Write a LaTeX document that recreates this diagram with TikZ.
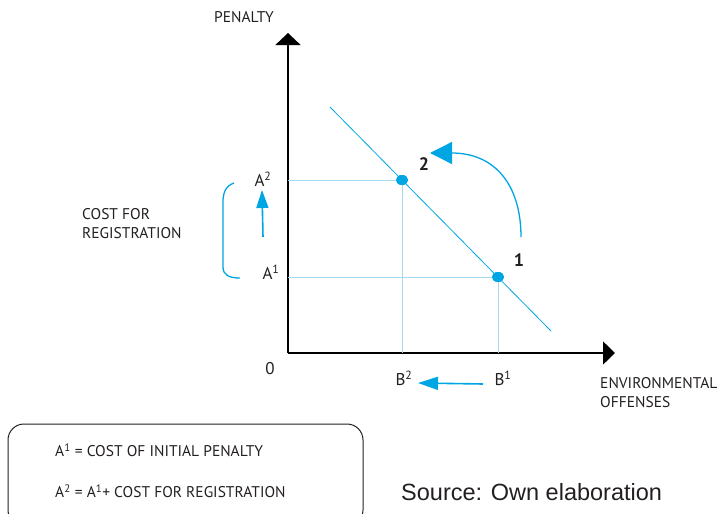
\documentclass[tikz,border=0pt]{standalone}
\usepackage{fontspec}
\setmainfont{PT Sans}
\newfontfamily\srcfont{Liberation Sans}
\usetikzlibrary{arrows.meta,shapes.geometric}
\definecolor{cy}{RGB}{0,166,228}
\definecolor{lcy}{RGB}{165,218,242}
\definecolor{ink}{RGB}{35,31,32}
\begin{document}
\begin{tikzpicture}[x=1pt,y=-1pt,
  lbl/.style={font=\fontsize{15.5}{19}\selectfont, text=ink, inner sep=0pt},
  pt/.style={font=\fontsize{17}{19}\selectfont, text=ink, inner sep=0pt},
  num/.style={font=\bfseries\fontsize{18}{20}\selectfont, text=ink, inner sep=0pt},
  axis/.style={line width=1.6pt, draw=black},
  guide/.style={draw=lcy, line width=0.6pt},
  dot/.style={ellipse, fill=cy, inner sep=0pt, minimum width=12pt, minimum height=10pt},
  blu/.style={draw=cy, line width=1.3pt},
  legend/.style={font=\fontsize{15.5}{17}\selectfont, text=ink, inner sep=0pt}
]
\useasboundingbox (0,0) rectangle (724,514);

% axes
\coordinate (O) at (288,353);
\coordinate (Ytip) at (288,33);
\coordinate (Xtip) at (615,353);
\draw[axis,-{Triangle[width=25pt,length=12pt]}] (O) -- (Ytip);
\draw[axis,-{Triangle[width=23pt,length=12pt]}] (O) -- (Xtip);

% demand line
\coordinate (D1) at (330,107);
\coordinate (D2) at (551,331);
\draw[cy, line width=0.8pt] (D1) -- (D2);

% points
\node[dot] (p2) at (402,180) {};
\node[dot] (p1) at (498,277) {};
\draw[guide] (p2.center) -- (p2.center -| O);
\draw[guide] (p2.center) -- (p2.center |- O);
\draw[guide] (p1.center) -- (p1.center -| O);
\draw[guide] (p1.center) -- (p1.center |- O);
\node[dot] at (p2) {};
\node[dot] at (p1) {};

\node[num] (n2) at (424,164) {2};
\node[num] (n1) at (519,260) {1};

% curved arrow
\coordinate (cs) at (521,237);
\coordinate (ce) at (430,153);
\draw[blu,-{Triangle[width=22pt,length=22pt]}] (cs) .. controls (521,185) and (495,153) .. (ce);

% labels on axes
\node[lbl] (penalty) at (244,17) {PENALTY};
\node[pt] (a2) at (263,179) {A\textsuperscript{2}};
\node[pt] (a1) at (271,272) {A\textsuperscript{1}};
\node[pt] (zero) at (270,369) {0};
\node[pt] (b2) at (404,378) {B\textsuperscript{2}};
\node[pt] (b1) at (503,378) {B\textsuperscript{1}};
\node[lbl, anchor=west, align=left] (env) at (600,393) {ENVIRONMENTAL\\OFFENSES};
\node[lbl, anchor=west, align=left] (cost) at (82,224) {COST FOR\\REGISTRATION};

% small arrows
\coordinate (va) at (263,237);
\coordinate (vb) at (262,190);
\draw[cy, line width=1.6pt, -{Triangle[width=12pt,length=18pt]}] (va) -- (vb);
\coordinate (ha) at (483,384);
\coordinate (hb) at (418,383);
\draw[cy, line width=1.6pt, -{Triangle[width=13pt,length=20pt]}] (ha) -- (hb);

% bracket
\coordinate (bt) at (234,183);
\coordinate (bb) at (240,278);
\draw[blu] (bt) .. controls (225,186) and (223,194) .. (223,202) -- (223,267) .. controls (223,275) and (229,278) .. (bb);

% legend box
\draw[line width=1pt, draw=ink, rounded corners=16pt] (8,424) rectangle (363,526);
\node[legend, anchor=west] (l1) at (55,450) {A\textsuperscript{1} = COST OF INITIAL PENALTY};
\node[legend, anchor=west] (l2) at (55,491) {A\textsuperscript{2} = A\textsuperscript{1}+ COST FOR REGISTRATION};

\node[anchor=west, inner sep=0pt, font=\srcfont\fontsize{23.5}{25}\selectfont, text=ink] (src) at (401,492) {Source: Own elaboration};
\end{tikzpicture}
\end{document}
